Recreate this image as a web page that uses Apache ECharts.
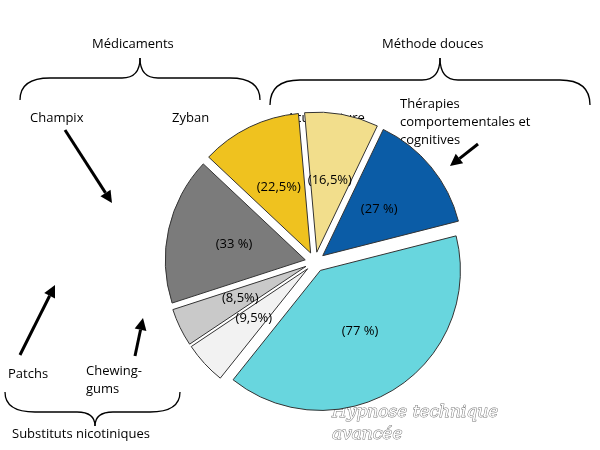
<!DOCTYPE html>
<html><head><meta charset="utf-8">
<script src="https://cdn.jsdelivr.net/npm/echarts@6/dist/echarts.min.js"></script>
<style>html,body{margin:0;background:#fff}#c{width:600px;height:450px}</style>
</head><body><div id="c"></div>
<script>
const categories = ['Acupuncture','Thérapies comportementales et cognitives','Hypnose technique avancée','Chewing-gums','Patchs','Champix','Zyban'];
const values = [16.5, 27, 77, 9.5, 8.5, 33, 22.5];
const valueLabels = ['(16,5%)','(27 %)','(77 %)','(9,5%)','(8,5%)','(33 %)','(22,5%)'];
const colors = ['#f2de8c','#0b5ca6','#68d6de','#f2f2f2','#c9c9c9','#7b7b7b','#efc21f'];

const chart = echarts.init(document.getElementById('c'));
const font = '"Open Sans", sans-serif';
function arrow(x1,y1,x2,y2){
  const a=Math.atan2(y2-y1,x2-x1), L=12, w=6;
  const bx=x2-L*Math.cos(a), by=y2-L*Math.sin(a);
  return [
    {type:'line',shape:{x1,y1,x2:bx,y2:by},style:{stroke:'#000',lineWidth:3}},
    {type:'polygon',shape:{points:[[x2,y2],[bx+w*Math.sin(a),by-w*Math.cos(a)],[bx-w*Math.sin(a),by+w*Math.cos(a)]]},style:{fill:'#000'}}
  ];
}
function txt(x,y,t,extra){return {type:'text',x,y,style:Object.assign({text:t,font:'13px '+font,fill:'#000'},extra||{})};}
const bs={stroke:'#000',lineWidth:1.3,fill:null};
// brace: ends at (xl,yEnd),(xr,yEnd), bar at yBar, tip at (xm,yTip)
function brace(xl,xr,xm,yEnd,yBar,yTip){
  const r=Math.min(30,(xm-xl)/3), t=18, d=yTip<yBar?-1:1;
  const q=(x1,y1,cx,cy,x2,y2)=>({type:'bezierCurve',shape:{x1,y1,cpx1:cx,cpy1:cy,x2,y2},style:bs});
  const l=(x1,y1,x2,y2)=>({type:'line',shape:{x1,y1,x2,y2},style:bs});
  return [
    q(xl,yEnd,xl,yBar,xl+r,yBar), l(xl+r,yBar,xm-t,yBar), q(xm-t,yBar,xm,yBar,xm,yTip),
    q(xm,yTip,xm,yBar,xm+t,yBar), l(xm+t,yBar,xr-r,yBar), q(xr-r,yBar,xr,yBar,xr,yEnd)
  ];
}
chart.setOption({
  animation:false,
  series:[{
    type:'pie', center:[315,262], radius:[0,140], startAngle:95, clockwise:true,
    selectedMode:'multiple', selectedOffset:10,
    itemStyle:{borderColor:'#333',borderWidth:1},
    label:{position:'inside',fontFamily:font,fontSize:13,color:'#000',
      formatter:p=>valueLabels[p.dataIndex]},
    labelLine:{show:false},
    data:categories.map((c,i)=>({name:c,value:values[i],selected:true,itemStyle:{color:colors[i]}}))
  }],
  graphic:[
    ...brace(20,260,140,100,78,58),
    ...brace(270,590,440,105,80,58),
    ...brace(5,180,95,392,412,426),
    txt(92,38,'Médicaments'),
    txt(382,38,'Méthode douces'),
    txt(12,428,'Substituts nicotiniques'),
    txt(30,112,'Champix'),
    txt(172,112,'Zyban'),
    txt(287,112,'Acupuncture'),
    txt(400,95,'Thérapies\ncomportementales et\ncognitives',{lineHeight:18}),
    txt(8,368,'Patchs'),
    txt(86,362,'Chewing-\ngums',{lineHeight:18}),
    {type:'text',x:332,y:402,style:{text:'Hypnose technique\navancée',font:'italic 17px "DejaVu Serif", serif',fill:'#fff',stroke:'#777',lineWidth:1,lineHeight:22}},
    ...arrow(65,130,112,203),
    ...arrow(478,144,450,166),
    ...arrow(20,355,55,285),
    ...arrow(135,356,143,318)
  ]
});
</script></body></html>
